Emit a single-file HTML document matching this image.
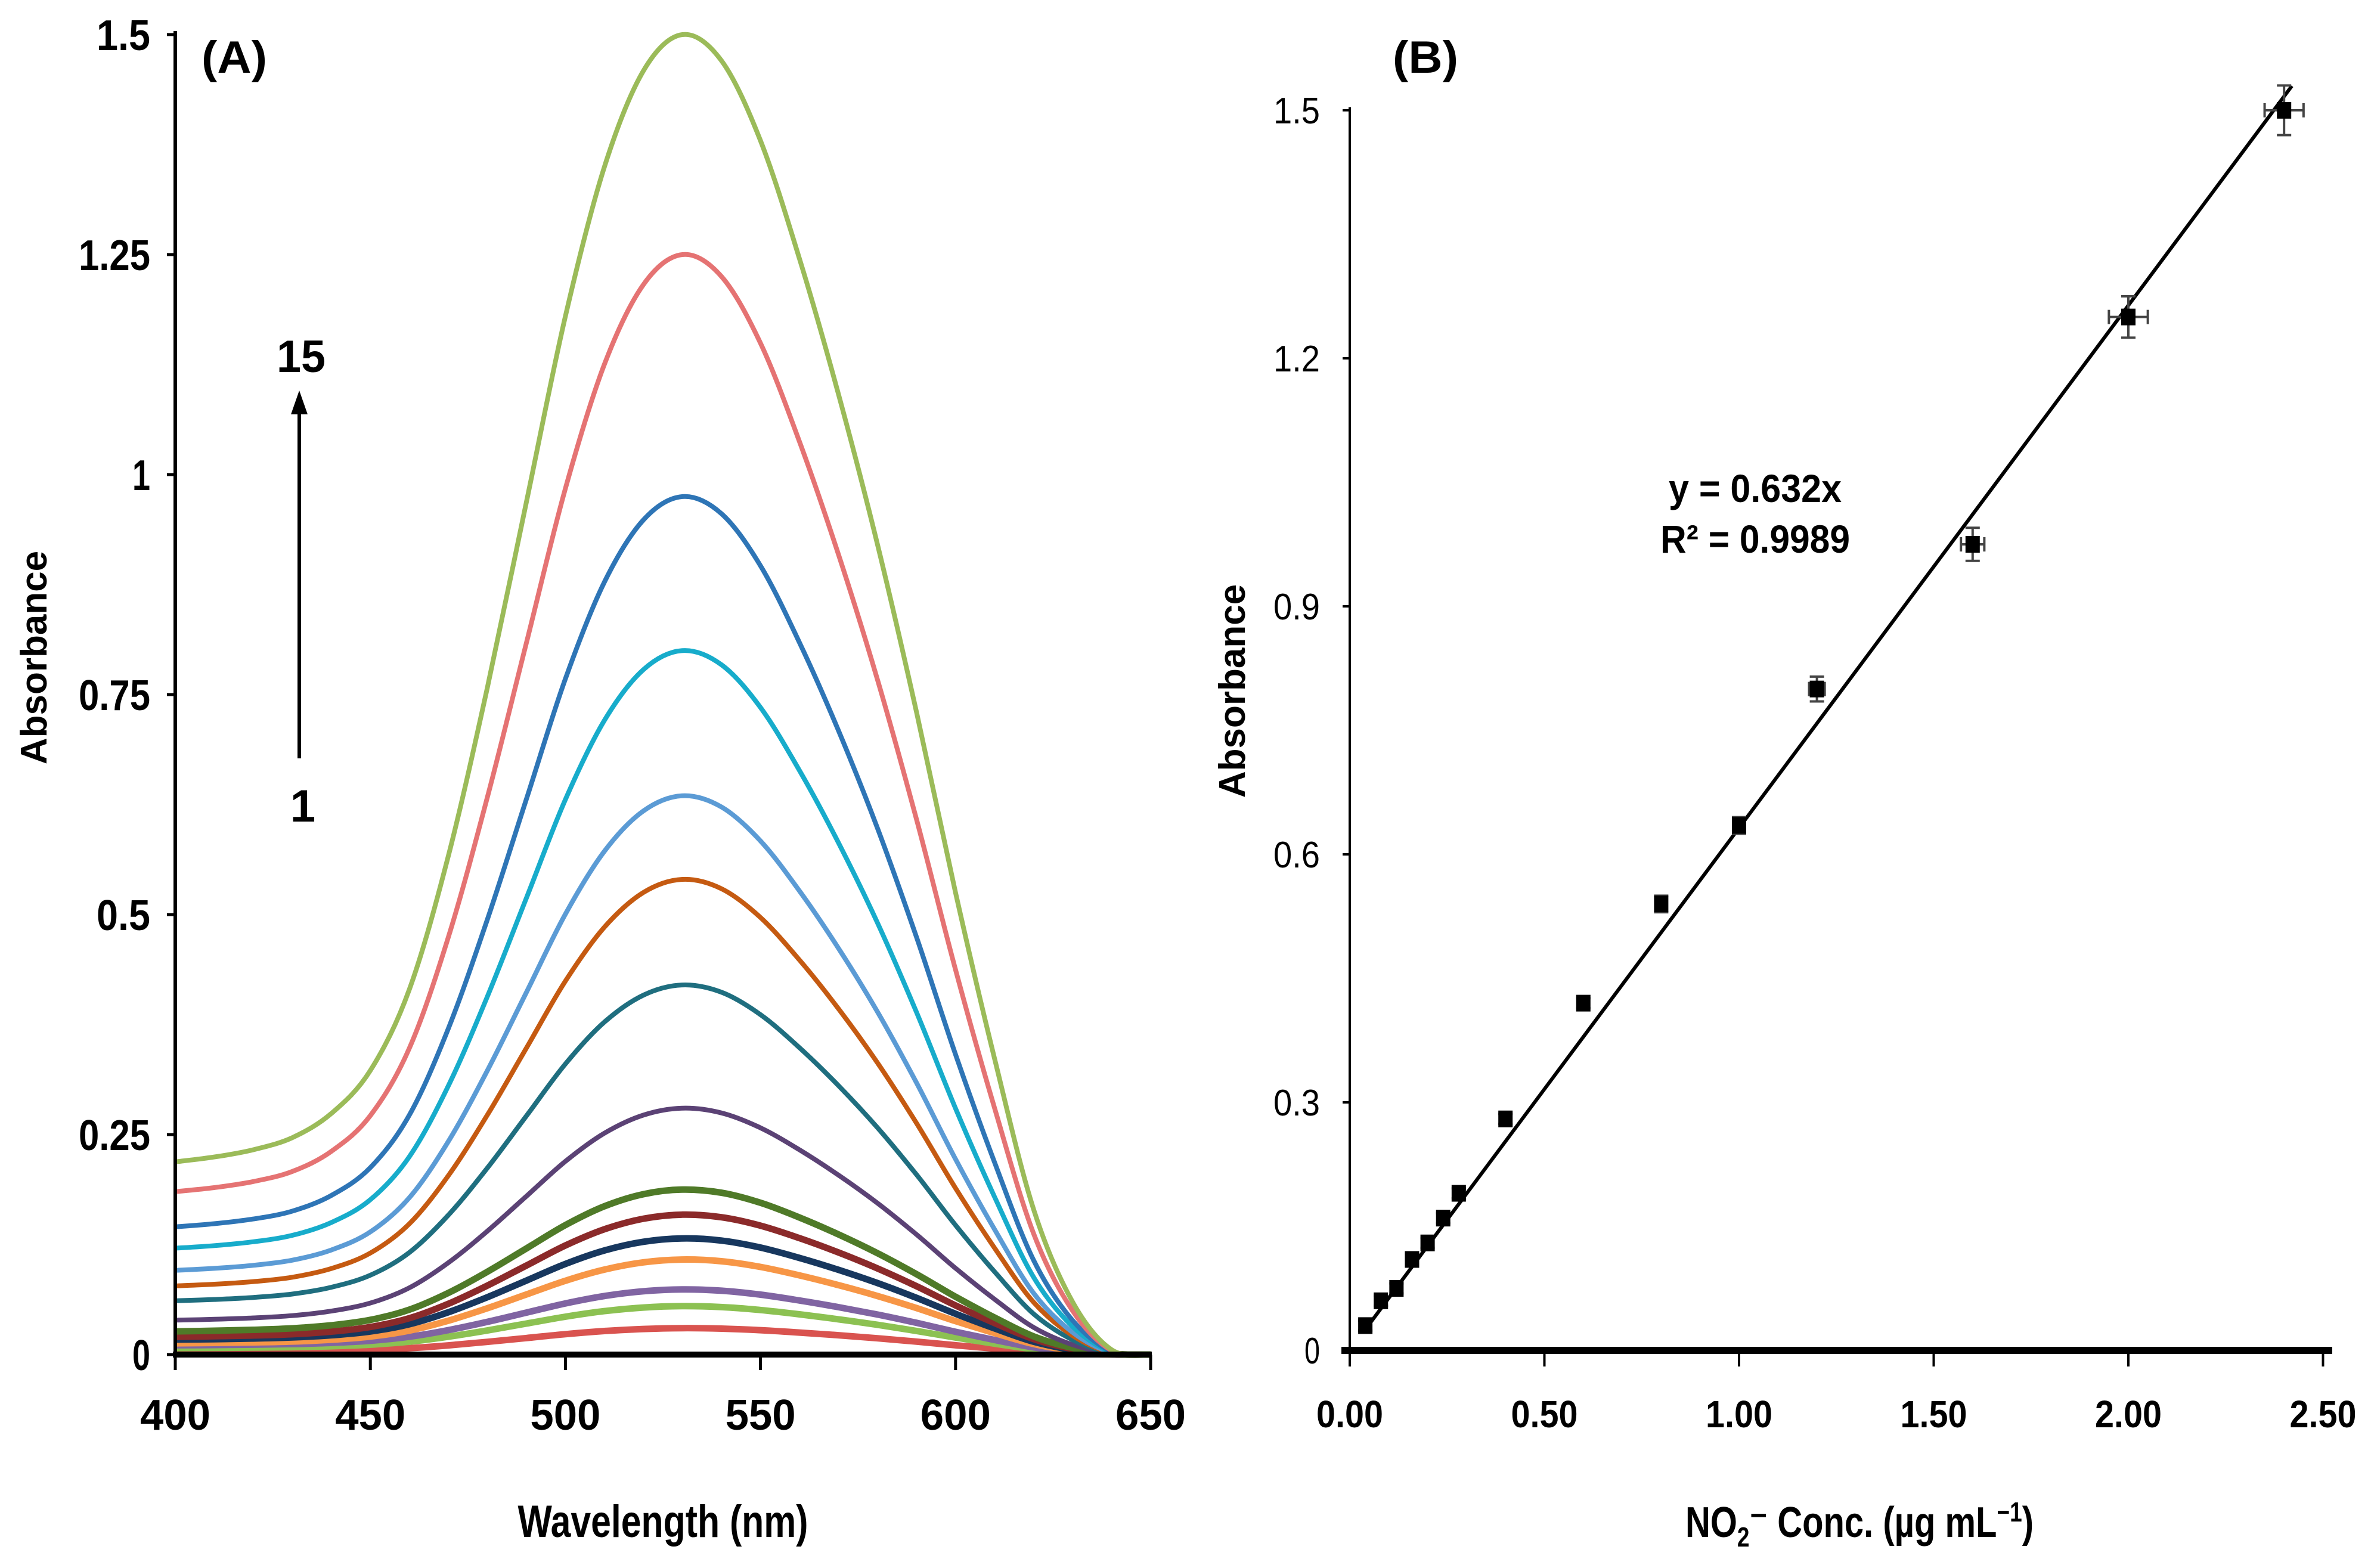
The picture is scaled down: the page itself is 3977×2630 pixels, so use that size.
<!DOCTYPE html>
<html><head><meta charset="utf-8"><style>
html,body{margin:0;padding:0;background:#fff;width:3977px;height:2630px;overflow:hidden}
svg text{font-family:"Liberation Sans",sans-serif}
</style></head><body>
<svg id="chart" xmlns="http://www.w3.org/2000/svg" width="3977" height="2630" viewBox="0 0 3977 2630">
<g id="panelA"></g>
<g id="panelB"></g>
</svg>
<script>
// Panel A data
const wavelengths = [400,410,420,430,440,450,460,470,480,490,500,510,520,530,540,550,560,570,580,590,600,610,620,630,640,650];
const peakProfile = [0.008,0.012,0.018,0.028,0.048,0.085,0.155,0.27,0.415,0.576,0.737,0.871,0.961,1.0,0.989,0.932,0.845,0.742,0.627,0.499,0.359,0.231,0.114,0.042,0.004,0];
const baseProfile = [1,1,1,1,1,0.99,0.97,0.94,0.9,0.85,0.8,0.73,0.66,0.6,0.53,0.47,0.4,0.34,0.28,0.21,0.15,0.09,0.04,0.01,0,0];
const peakValues = [1.5,1.25,0.975,0.8,0.635,0.54,0.42,0.28,0.1875,0.159,0.132,0.108,0.074,0.055,0.030];
const baseValues = [0.208,0.176,0.138,0.115,0.091,0.074,0.058,0.037,0.025,0.019,0.016,0.012,0.010,0.007,0.003];
const curveColors = ["#9BBB59","#E57373","#2E75B6","#17ACCB","#5B9BD5","#C55A11","#1F6E7F","#5B4275","#4F7A28","#8B2A2A","#17375E","#F79646","#8064A2","#8CC152","#D9534F"];
const xTicksA = [400,450,500,550,600,650];
const yTicksA = [0,0.25,0.5,0.75,1,1.25,1.5];
const yTickLabelsA = ["0","0.25","0.5","0.75","1","1.25","1.5"];
// Panel B data
const concentrations = [0.04,0.08,0.12,0.16,0.20,0.24,0.28,0.40,0.60,0.80,1.00,1.20,1.60,2.00,2.40];
const absorbances = [0.03,0.06,0.075,0.11,0.13,0.16,0.19,0.28,0.42,0.54,0.635,0.80,0.975,1.25,1.50];
const yErrors = [0.006,0.006,0.006,0.006,0.006,0.006,0.006,0.006,0.006,0.01,0.01,0.015,0.02,0.025,0.03];
const xErrors = [0,0,0,0,0,0,0,0,0,0,0,0.02,0.03,0.05,0.05];
const slope = 0.632;
const fitRange = [0.04,2.42];
const xTicksB = [0,0.5,1,1.5,2,2.5];
const xTickLabelsB = ["0.00","0.50","1.00","1.50","2.00","2.50"];
const yTicksB = [0,0.3,0.6,0.9,1.2,1.5];
const yTickLabelsB = ["0","0.3","0.6","0.9","1.2","1.5"];

const NS="http://www.w3.org/2000/svg";
function mk(parent,tag,attrs,text){const e=document.createElementNS(NS,tag);for(const k in attrs)e.setAttribute(k,attrs[k]);if(text!==undefined)e.textContent=text;parent.appendChild(e);return e;}
function smoothPath(pts){
  let d="M"+pts[0][0].toFixed(1)+","+pts[0][1].toFixed(1);
  for(let i=0;i<pts.length-1;i++){
    const p0=pts[i-1]||pts[i],p1=pts[i],p2=pts[i+1],p3=pts[i+2]||p2;
    const c1x=p1[0]+(p2[0]-p0[0])/6,c1y=p1[1]+(p2[1]-p0[1])/6;
    const c2x=p2[0]-(p3[0]-p1[0])/6,c2y=p2[1]-(p3[1]-p1[1])/6;
    d+="C"+c1x.toFixed(1)+","+c1y.toFixed(1)+" "+c2x.toFixed(1)+","+c2y.toFixed(1)+" "+p2[0].toFixed(1)+","+p2[1].toFixed(1);
  }
  return d;
}

// ---- Panel A
const A=document.getElementById('panelA');
const xA=v=>294+(v-400)*(1930-294)/250;
const yA=v=>2272-v*(2272-58)/1.5;
for(let c=peakValues.length-1;c>=0;c--){
  const pts=wavelengths.map((w,i)=>[xA(w),yA(baseValues[c]*baseProfile[i]+(peakValues[c]-baseValues[c]*0.6)*peakProfile[i])]);
  const p=mk(A,'path',{d:smoothPath(pts),fill:'none',stroke:curveColors[c],'stroke-width':c<8?8:11,'stroke-linejoin':'round'});
  
  
}
let ax=mk(A,'line',{x1:294,y1:52,x2:294,y2:2276,stroke:'#000','stroke-width':6});

ax=mk(A,'line',{x1:290,y1:2272,x2:1932,y2:2272,stroke:'#000','stroke-width':10});

xTicksA.forEach(v=>{
  mk(A,'line',{x1:xA(v),y1:2272,x2:xA(v),y2:2298,stroke:'#000','stroke-width':5});
  const t=mk(A,'text',{x:xA(v),y:2398,'text-anchor':'middle','font-size':72,'font-weight':'bold',textLength:118,lengthAdjust:'spacingAndGlyphs'},v);
  
});
yTicksA.forEach((v,i)=>{
  mk(A,'line',{x1:280,y1:yA(v),x2:294,y2:yA(v),stroke:'#000','stroke-width':5});
  const s=yTickLabelsA[i];
  const t=mk(A,'text',{x:252,y:yA(v)+26,'text-anchor':'end','font-size':72,'font-weight':'bold',textLength:s.length*30,lengthAdjust:'spacingAndGlyphs'},s);
  
});
let t=mk(A,'text',{x:1112,y:2578,'text-anchor':'middle','font-size':76,'font-weight':'bold',textLength:487,lengthAdjust:'spacingAndGlyphs'},'Wavelength (nm)');

t=mk(A,'text',{x:0,y:0,'text-anchor':'middle','font-size':62,'font-weight':'bold',transform:'translate(78,1103) rotate(-90)'},'Absorbance');

t=mk(A,'text',{x:393,y:122,'text-anchor':'middle','font-size':76,'font-weight':'bold',textLength:110,lengthAdjust:'spacingAndGlyphs'},'(A)');

t=mk(A,'text',{x:505,y:624,'text-anchor':'middle','font-size':76,'font-weight':'bold',textLength:82,lengthAdjust:'spacingAndGlyphs'},'15');

t=mk(A,'text',{x:508,y:1378,'text-anchor':'middle','font-size':76,'font-weight':'bold'},'1');

let ar=mk(A,'line',{x1:502,y1:1272,x2:502,y2:690,stroke:'#000','stroke-width':6});

mk(A,'polygon',{points:'502,655 488,695 516,695',fill:'#000'});

// ---- Panel B
const B=document.getElementById('panelB');
const xB=v=>2264+v*653;
const yB=v=>2265-v*(2265-185)/1.5;
ax=mk(B,'line',{x1:2264,y1:180,x2:2264,y2:2268,stroke:'#000','stroke-width':4});

ax=mk(B,'line',{x1:2250,y1:2265,x2:3912,y2:2265,stroke:'#000','stroke-width':12});

xTicksB.forEach((v,i)=>{
  mk(B,'line',{x1:xB(v),y1:2265,x2:xB(v),y2:2292,stroke:'#000','stroke-width':4});
  const t=mk(B,'text',{x:xB(v),y:2394,'text-anchor':'middle','font-size':64,'font-weight':'bold',textLength:112,lengthAdjust:'spacingAndGlyphs'},xTickLabelsB[i]);
  
});
yTicksB.forEach((v,i)=>{
  mk(B,'line',{x1:2252,y1:yB(v),x2:2264,y2:yB(v),stroke:'#000','stroke-width':4});
  const s=yTickLabelsB[i];
  const t=mk(B,'text',{x:2214,y:yB(v)+22,'text-anchor':'end','font-size':62,textLength:s.length*26,lengthAdjust:'spacingAndGlyphs'},s);
  
});
let fl=mk(B,'line',{x1:xB(fitRange[0]),y1:yB(slope*fitRange[0]),x2:xB(fitRange[1]),y2:yB(slope*fitRange[1]),stroke:'#000','stroke-width':6});

concentrations.forEach((c,i)=>{
  const cx=xB(c),cy=yB(absorbances[i]);
  const g=mk(B,'g',{});
  
  
  const ey=yErrors[i]*(2265-185)/1.5, ex=xErrors[i]*653;
  mk(g,'line',{x1:cx,y1:cy-ey,x2:cx,y2:cy+ey,stroke:'#444','stroke-width':4});
  mk(g,'line',{x1:cx-12,y1:cy-ey,x2:cx+12,y2:cy-ey,stroke:'#444','stroke-width':4});
  mk(g,'line',{x1:cx-12,y1:cy+ey,x2:cx+12,y2:cy+ey,stroke:'#444','stroke-width':4});
  if(ex>0){
    mk(g,'line',{x1:cx-ex,y1:cy,x2:cx+ex,y2:cy,stroke:'#444','stroke-width':4});
    mk(g,'line',{x1:cx-ex,y1:cy-12,x2:cx-ex,y2:cy+12,stroke:'#444','stroke-width':4});
    mk(g,'line',{x1:cx+ex,y1:cy-12,x2:cx+ex,y2:cy+12,stroke:'#444','stroke-width':4});
  }
  mk(g,'rect',{x:cx-12,y:cy-14,width:24,height:28,fill:'#000'});
});
t=mk(B,'text',{x:2944,y:842,'text-anchor':'middle','font-size':66,'font-weight':'bold',textLength:290,lengthAdjust:'spacingAndGlyphs'},'y = 0.632x');

t=mk(B,'text',{x:2944,y:927,'text-anchor':'middle','font-size':66,'font-weight':'bold',textLength:318,lengthAdjust:'spacingAndGlyphs'},'R² = 0.9989');

t=mk(B,'text',{x:2391,y:122,'text-anchor':'middle','font-size':76,'font-weight':'bold',textLength:110,lengthAdjust:'spacingAndGlyphs'},'(B)');

t=mk(B,'text',{x:0,y:0,'text-anchor':'middle','font-size':62,'font-weight':'bold',transform:'translate(2088,1159) rotate(-90)'},'Absorbance');

t=mk(B,'text',{x:3119,y:2578,'text-anchor':'middle','font-size':72,'font-weight':'bold',textLength:584,lengthAdjust:'spacingAndGlyphs'});

t.innerHTML='NO<tspan font-size="46" dy="16">2</tspan><tspan dy="-16">⁻ Conc. (µg mL</tspan><tspan font-size="46" dy="-26">−1</tspan><tspan dy="26">)</tspan>';
</script>
</body></html>
